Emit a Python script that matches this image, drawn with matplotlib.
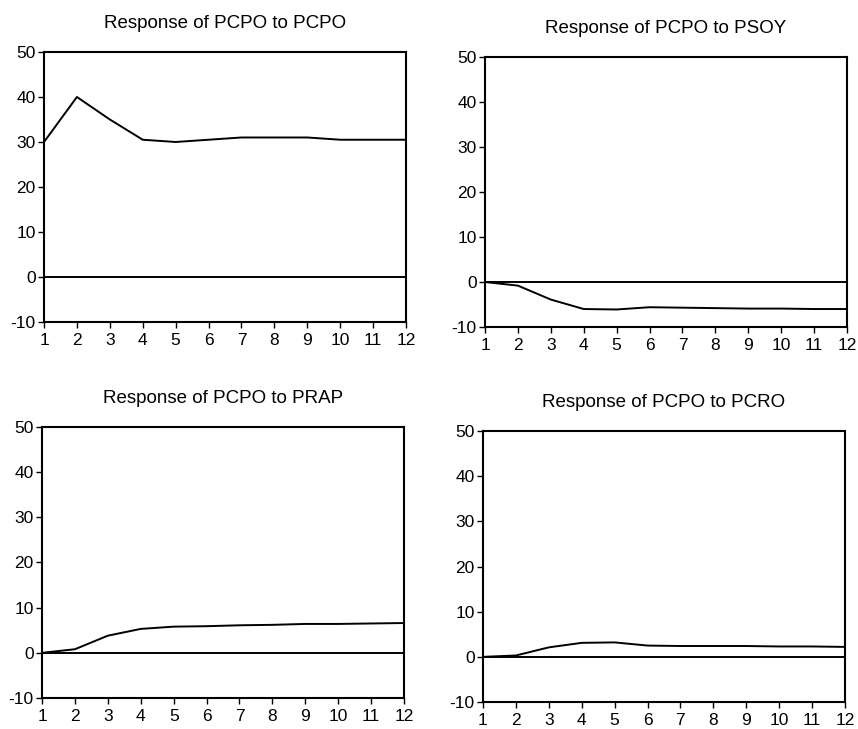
import matplotlib
matplotlib.use("Agg")
import matplotlib.pyplot as plt
import numpy as np

plt.rcParams['font.family'] = ['Liberation Sans', 'DejaVu Sans']
plt.rcParams['axes.unicode_minus'] = False

# impulse response horizon
periods = list(range(1, 13))

# responses
resp_pcpo = [30, 40, 35, 30.5, 30, 30.5, 31, 31, 31, 30.5, 30.5, 30.5]
resp_psoy = [0, -0.8, -3.9, -6.0, -6.1, -5.6, -5.7, -5.8, -5.9, -5.9, -6.0, -6.0]
resp_prap = [0, 0.8, 3.8, 5.3, 5.8, 5.9, 6.1, 6.2, 6.4, 6.4, 6.5, 6.6]
resp_pcro = [0, 0.3, 2.1, 3.1, 3.2, 2.5, 2.4, 2.4, 2.4, 2.3, 2.3, 2.2]

titles = ["Response of PCPO to PCPO", "Response of PCPO to PSOY",
          "Response of PCPO to PRAP", "Response of PCPO to PCRO"]
series = [resp_pcpo, resp_psoy, resp_prap, resp_pcro]

# axes boxes [left, bottom, width, height] in figure fractions
boxes = [
    [0.0513, 0.5583, 0.4219, 0.3704],
    [0.5653, 0.5514, 0.4219, 0.3704],
    [0.0490, 0.0425, 0.4219, 0.3718],
    [0.5629, 0.0370, 0.4219, 0.3718],
]

fig = plt.figure(figsize=(8.58, 7.29), dpi=100)

for box, title, vals in zip(boxes, titles, series):
    ax = fig.add_axes(box)
    ax.plot(periods, vals, color='black', lw=1.4)
    ax.axhline(0, color='black', lw=1.4)
    ax.set_xlim(1, 12)
    ax.set_ylim(-10, 50)
    ax.set_xticks(periods)
    ax.set_yticks(np.arange(-10, 51, 10))
    ax.tick_params(direction='out', length=4, width=1, labelsize=12.5)
    ax.tick_params(axis='x', pad=4)
    ax.tick_params(axis='y', pad=2)
    for s in ax.spines.values():
        s.set_linewidth(1.5)
    ax.set_title(title, fontsize=13.5, pad=17)

plt.savefig("out.png", dpi=100)
